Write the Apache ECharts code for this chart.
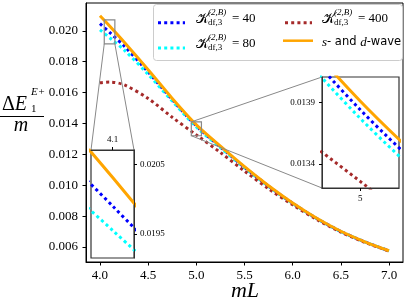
<!DOCTYPE html>
<html><head><meta charset="utf-8">
<script src="https://cdn.jsdelivr.net/npm/echarts@6/dist/echarts.min.js"></script>
<style>html,body{margin:0;padding:0;background:#fff}#c{width:407px;height:303px}</style>
</head><body><div id="c"></div>
<script>
// ---- data ----
const mL    = [4.0, 4.1, 4.25, 4.5, 4.75, 5.0, 5.25, 5.5, 5.75, 6.0, 6.25, 6.5, 6.75, 7.0];
const k40   = [0.02046, 0.01990, 0.01902, 0.01733, 0.01554, 0.01384, 0.01248, 0.01116, 0.00994, 0.00883, 0.00785, 0.00701, 0.00633, 0.00575];
const k80   = [0.02006, 0.01955, 0.01876, 0.01718, 0.01545, 0.01377, 0.01243, 0.01113, 0.00992, 0.00882, 0.00784, 0.00700, 0.00633, 0.00575];
const k400  = [0.01663, 0.01668, 0.01650, 0.01562, 0.01440, 0.01326, 0.01212, 0.01092, 0.00977, 0.00873, 0.00778, 0.00697, 0.00630, 0.00574];
const sdWave= [0.02097, 0.02031, 0.01928, 0.01748, 0.01562, 0.01391, 0.01253, 0.01120, 0.00997, 0.00885, 0.00786, 0.00702, 0.00634, 0.00576];
const xTicks = [4.0, 4.5, 5.0, 5.5, 6.0, 6.5, 7.0];
const yTicks = [0.006, 0.008, 0.010, 0.012, 0.014, 0.016, 0.018, 0.020];
const inset1X = [4.1], inset1Y = [0.0195, 0.0205];
const inset2X = [5.0], inset2Y = [0.0134, 0.0139];
const legendLabels = ['= 40', '= 80', '= 400'];

const serif = "'Liberation Serif', serif";
const chart = echarts.init(document.getElementById('c'));
const mk = arr => mL.map((x, i) => [x, arr[i]]);

const ranges = [
  {x: [3.855, 7.145], y: [0.00503, 0.0218]},
  {x: [4.0445, 4.1545], y: [0.019154, 0.020706]},
  {x: [4.948, 5.053], y: [0.013206, 0.014104]}
];

const specs = [
  {arr: k40, color: '#0000ff', dot: true},
  {arr: k80, color: '#00ffff', dot: true},
  {arr: k400, color: '#a52a2a', dot: true},
  {arr: sdWave, color: '#ffa500', dot: false}
];

const series = [];
[0, 1, 2].forEach(g => {
  specs.forEach(s => {
    series.push({
      type: 'line', xAxisIndex: g, yAxisIndex: g, data: mk(s.arr),
      smooth: 0.3, symbol: 'none', silent: true, clip: true,
      z: g ? 11 : 2,
      lineStyle: {color: s.color, width: 3, type: s.dot ? [3, 3.2] : 'solid'}
    });
  });
});

function ax(g, pos, ticks, fmt, size, margin, isX) {
  const r = isX ? ranges[g].x : ranges[g].y;
  return {
    gridIndex: g, type: 'value', position: pos,
    min: r[0], max: r[1], z: g ? 12 : 3,
    axisLine: {show: true, lineStyle: {color: g ? '#333' : '#000', width: 1}},
    axisTick: {show: true, inside: false, length: g ? 3 : 3.5, customValues: ticks, lineStyle: {color: '#000'}},
    axisLabel: {show: true, customValues: ticks, formatter: fmt, fontFamily: serif, fontSize: size, color: '#000', margin: margin},
    splitLine: {show: false}
  };
}

chart.setOption({
  animation: false,
  grid: [
    {left: 86, top: 3, right: 4, bottom: 41, show: true, borderColor: '#000', borderWidth: 1, z: 3},
    {left: 91, top: 150, width: 43, height: 108, show: true, backgroundColor: '#fff', borderColor: '#333', borderWidth: 1.2, z: 10},
    {left: 322, top: 77, width: 77, height: 111, show: true, backgroundColor: '#fff', borderColor: '#333', borderWidth: 1.2, z: 10}
  ],
  xAxis: [
    ax(0, 'bottom', xTicks, v => v.toFixed(1), 13, 7, true),
    ax(1, 'top', inset1X, v => v.toFixed(1), 9, 6, true),
    ax(2, 'bottom', inset2X, v => v.toFixed(0), 9, 6, true)
  ],
  yAxis: [
    ax(0, 'left', yTicks, v => v.toFixed(3), 13, 8, false),
    ax(1, 'right', inset1Y, v => v.toFixed(4), 9, 6, false),
    ax(2, 'left', inset2Y, v => v.toFixed(4), 9, 7, false)
  ],
  series: series
});

// ---- decorations: inset marker boxes, connectors, legend, axis titles ----
const P = (g, x, y) => chart.convertToPixel({gridIndex: g}, [x, y]);
const gfx = [];
const gray = '#888';
function boxAndCorners(g) {
  const r = ranges[g];
  const tl = P(0, r.x[0], r.y[1]), br = P(0, r.x[1], r.y[0]);
  gfx.push({type: 'rect', z: 6, silent: true, shape: {x: tl[0], y: tl[1], width: br[0] - tl[0], height: br[1] - tl[1]},
    style: {fill: null, stroke: gray, lineWidth: 1.2}});
  const itl = P(g, r.x[0], r.y[1]), ibr = P(g, r.x[1], r.y[0]);
  return {tl, br, itl, ibr};
}
const b1 = boxAndCorners(1);
gfx.push({type: 'line', z: 6, silent: true, shape: {x1: b1.tl[0], y1: b1.br[1], x2: b1.itl[0], y2: b1.itl[1]}, style: {stroke: gray, lineWidth: 1}});
gfx.push({type: 'line', z: 6, silent: true, shape: {x1: b1.br[0], y1: b1.br[1], x2: b1.ibr[0], y2: b1.itl[1]}, style: {stroke: gray, lineWidth: 1}});
const b2 = boxAndCorners(2);
gfx.push({type: 'line', z: 6, silent: true, shape: {x1: b2.tl[0], y1: b2.tl[1], x2: b2.itl[0], y2: b2.itl[1]}, style: {stroke: gray, lineWidth: 1}});
gfx.push({type: 'line', z: 6, silent: true, shape: {x1: b2.tl[0], y1: b2.br[1], x2: b2.itl[0], y2: b2.ibr[1]}, style: {stroke: gray, lineWidth: 1}});

function txt(x, y, text, size, opts) {
  const o = opts || {};
  gfx.push({type: 'text', z: 21, silent: true, x: x, y: y, style: Object.assign({
    text: text, fontFamily: o.family || serif, fontSize: size, fontStyle: o.italic ? 'italic' : 'normal',
    fill: '#000', verticalAlign: 'middle', align: o.align || 'left'}, o.extra || {})});
}

// legend
gfx.push({type: 'rect', z: 20, silent: true, shape: {x: 153.5, y: 4.5, width: 249, height: 56, r: 3},
  style: {fill: 'rgba(255,255,255,0.85)', stroke: '#cccccc', lineWidth: 1}});
function sample(x1, x2, y, color, dot) {
  gfx.push({type: 'line', z: 21, silent: true, shape: {x1, y1: y, x2, y2: y},
    style: {stroke: color, lineWidth: dot ? 3 : 2.5, lineDash: dot ? [3, 3.2] : null}});
}
function kLabel(x, cy, tail) {
  txt(x, cy, '𝒦', 14);
  txt(x + 12, cy - 6, '(2,B)', 9, {italic: true});
  txt(x + 12, cy + 4, 'df,3', 9);
  txt(x + 36, cy, tail, 13);
}
sample(158, 185, 22.7, specs[0].color, true);  kLabel(196, 19, legendLabels[0]);
sample(158, 185, 48, specs[1].color, true);    kLabel(196, 44, legendLabels[1]);
sample(285, 312, 22.7, specs[2].color, true);  kLabel(322, 19, legendLabels[2]);
sample(283, 313, 40.7, specs[3].color, false);
gfx.push({type: 'text', z: 21, silent: true, x: 322, y: 42.3, style: {
  text: '{i|s}{n|- and }{i|d}{n|-wave}', verticalAlign: 'middle',
  rich: {i: {fontFamily: serif, fontStyle: 'italic', fontSize: 13, fill: '#000'}, n: {fontFamily: "'DejaVu Sans', sans-serif", fontSize: 11.5, fill: '#000'}}}});

// y-axis title (fraction)
gfx.push({type: 'text', z: 21, silent: true, x: 2, y: 105, style: {
  text: '{d|Δ}{e|E}', verticalAlign: 'middle',
  rich: {d: {fontFamily: serif, fontSize: 20, fill: '#000'}, e: {fontFamily: serif, fontStyle: 'italic', fontSize: 20, fill: '#000'}}}});
txt(31, 92.5, 'E+', 11, {italic: true});
txt(31, 109.5, '1', 11);
gfx.push({type: 'line', z: 21, silent: true, shape: {x1: 0, y1: 116.5, x2: 44, y2: 116.5}, style: {stroke: '#000', lineWidth: 1}});
txt(21, 126, 'm', 20, {italic: true, align: 'center'});
// x-axis title
txt(245, 291, 'mL', 22, {italic: true, align: 'center'});

chart.setOption({graphic: gfx});
</script></body></html>
